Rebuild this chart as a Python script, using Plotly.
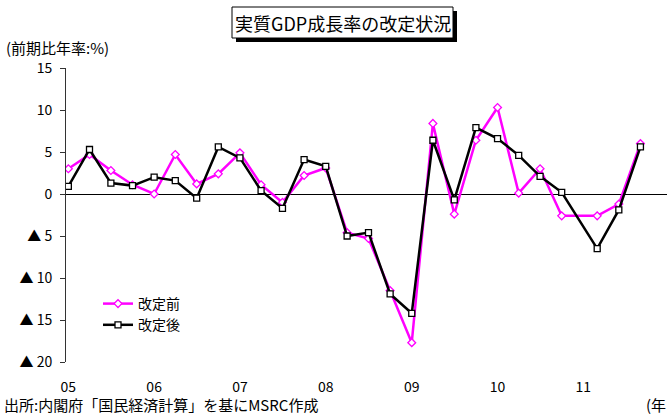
import plotly.graph_objects as go

# ---- data ----
dates = ["2005-01-01", "2005-04-01", "2005-07-01", "2005-10-01",
         "2006-01-01", "2006-04-01", "2006-07-01", "2006-10-01",
         "2007-01-01", "2007-04-01", "2007-07-01", "2007-10-01",
         "2008-01-01", "2008-04-01", "2008-07-01", "2008-10-01",
         "2009-01-01", "2009-04-01", "2009-07-01", "2009-10-01",
         "2010-01-01", "2010-04-01", "2010-07-01", "2010-10-01",
         "2011-03-01", "2011-06-01", "2011-09-01"]
before = [3.0, 4.7, 2.8, 1.1, 0.0, 4.7, 1.2, 2.4, 4.9, 1.1, -1.0, 2.2, 3.1,
          -4.6, -5.3, -11.5, -17.7, 8.4, -2.4, 6.4, 10.3, 0.1, 3.0, -2.6,
          -2.6, -1.2, 6.0]
after = [0.9, 5.3, 1.3, 1.0, 2.0, 1.6, -0.5, 5.6, 4.3, 0.4, -1.7, 4.1, 3.3,
         -5.0, -4.6, -11.9, -14.2, 6.4, -0.7, 7.9, 6.6, 4.6, 2.1, 0.2,
         -6.5, -1.9, 5.6]
series_names = ["改定前", "改定後"]
year_ticks = ["2005-01-01", "2006-01-01", "2007-01-01", "2008-01-01",
              "2009-01-01", "2010-01-01", "2011-01-01"]
year_labels = ["05", "06", "07", "08", "09", "10", "11"]
y_ticks = [15, 10, 5, 0, -5, -10, -15, -20]
y_labels = ["15", "10", "5", "0", "▲ 5", "▲ 10", "▲ 15", "▲ 20"]

title_text = "実質GDP成長率の改定状況"
unit_text = "(前期比年率:%)"
source_text = "出所:内閣府「国民経済計算」を基にMSRC作成"
year_unit = "(年"

# ---- layout geometry ----
W, H = 667, 416
L, R, T, B = 66, 0, 68, 54
pw, ph = W - L - R, H - T - B


def px(x):
    return (x - L) / pw


def py(y):
    return (H - B - y) / ph


FONT = "Noto Sans CJK JP, Noto Sans, sans-serif"

fig = go.Figure()
fig.add_trace(go.Scatter(
    x=dates, y=before, name=series_names[0], mode="lines+markers",
    line=dict(color="#FF00FF", width=2.5),
    marker=dict(symbol="diamond", size=6, color="white",
                line=dict(color="#FF00FF", width=1.3)),
))
fig.add_trace(go.Scatter(
    x=dates, y=after, name=series_names[1], mode="lines+markers",
    line=dict(color="black", width=2.5),
    marker=dict(symbol="square", size=6, color="white",
                line=dict(color="black", width=1.3)),
))

fig.update_layout(
    width=W, height=H,
    margin=dict(l=L, r=R, t=T, b=B),
    paper_bgcolor="white", plot_bgcolor="white",
    font=dict(family=FONT, size=14, color="black"),
    showlegend=True,
    legend=dict(x=px(98), y=py(288), xanchor="left", yanchor="top",
                bgcolor="rgba(0,0,0,0)", font=dict(size=14),
                itemwidth=30),
    xaxis=dict(
        type="date", range=["2004-12-22", "2011-12-23"],
        tickvals=year_ticks, ticktext=year_labels,
        showgrid=False, zeroline=False, showline=False,
        ticks="outside", ticklen=12, tickcolor="rgba(0,0,0,0)",
        tickfont=dict(size=14),
    ),
    yaxis=dict(
        range=[-20, 15], tickvals=y_ticks, ticktext=y_labels,
        showgrid=False, showline=True, linecolor="#333333", linewidth=1,
        ticks="outside", ticklen=5, tickcolor="#333333",
        zeroline=True, zerolinecolor="black", zerolinewidth=1,
        tickfont=dict(size=14), ticklabelstandoff=5,
    ),
)

# title box with drop shadow
fig.add_shape(type="rect", xref="paper", yref="paper",
              x0=px(236), x1=px(457), y0=py(42), y1=py(11),
              fillcolor="black", line=dict(width=0), layer="above")
fig.add_shape(type="rect", xref="paper", yref="paper",
              x0=px(232), x1=px(453), y0=py(38), y1=py(7),
              fillcolor="white", line=dict(color="black", width=1),
              layer="above")
fig.add_annotation(text=title_text, xref="paper", yref="paper",
                   x=px(342.5), y=py(22.5), xanchor="center",
                   yanchor="middle", showarrow=False,
                   font=dict(size=18))
fig.add_annotation(text=unit_text, xref="paper", yref="paper",
                   x=px(4), y=py(47), xanchor="left", yanchor="middle",
                   showarrow=False, font=dict(size=15))
fig.add_annotation(text=source_text, xref="paper", yref="paper",
                   x=px(2), y=py(404), xanchor="left", yanchor="middle",
                   showarrow=False, font=dict(size=15))
fig.add_annotation(text=year_unit, xref="paper", yref="paper",
                   x=px(644), y=py(404), xanchor="left", yanchor="middle",
                   showarrow=False, font=dict(size=15))

fig.write_html("out.html")
